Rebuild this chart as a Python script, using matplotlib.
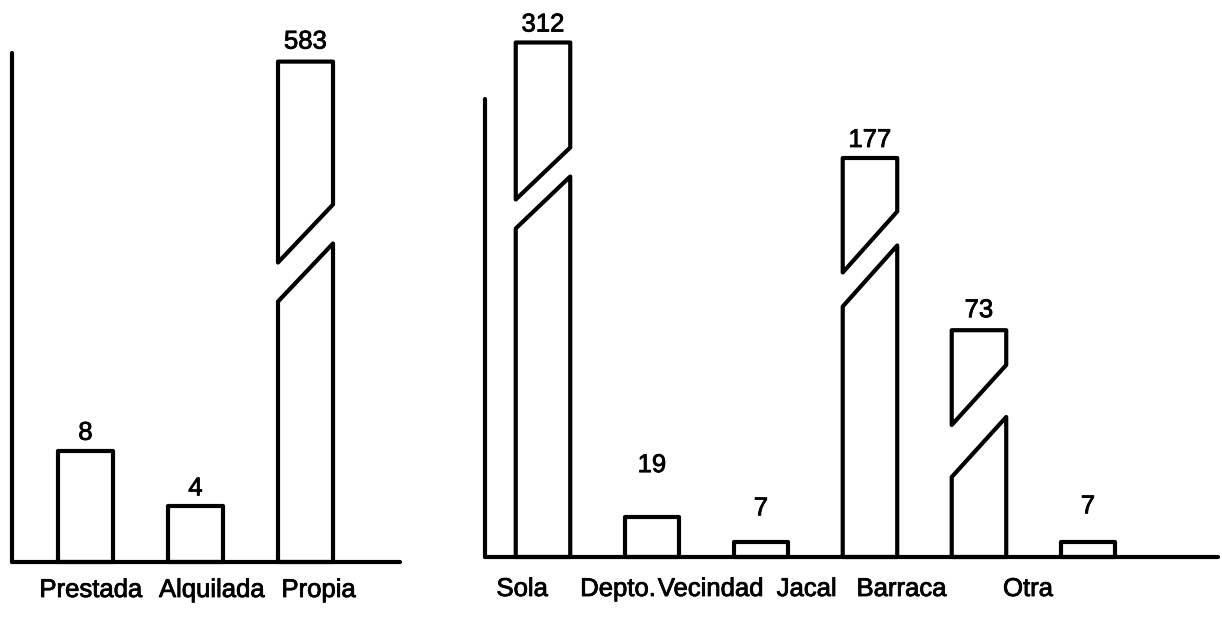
import matplotlib.pyplot as plt
import matplotlib.patheffects as pe
from matplotlib.patches import Polygon, Rectangle

plt.rcParams['font.family'] = ['Liberation Sans', 'DejaVu Sans']

# left chart: tenencia de la vivienda
cats_l = ['Prestada', 'Alquilada', 'Propia']
vals_l = [8, 4, 583]
# right chart: tipo de vivienda
cats_r = ['Sola', 'Depto.', 'Vecindad', 'Jacal', 'Barraca', 'Otra']
vals_r = [312, 19, 7, 177, 73, 7]

# drawn height of the broken (out of scale) bars, in axis units
shown_l = {2: 36.0}
shown_r = {0: 245, 3: 190, 4: 108}
# break geometry in pixels: (centre above base, drop of diagonal, gap)
brk_l = {2: (309, 58, 39)}
brk_r = {0: (369, 52, 29), 3: (298, 61, 34), 4: (136, 60, 52)}
# gap between bar top and value label, pixels
lab_gap_l = [6, 6, 8]
lab_gap_r = [6, 40, 22, 6, 8, 24]
# category label x positions (axis units)
tick_l = [0.05, 1.15, 2.12]
tick_r = [-0.19, 0.69, 1.54, 2.42, 3.29, 4.45]

W, H = 1222, 617
LW = 3.0
FS = 18.5
thick = [pe.withStroke(linewidth=0.6, foreground='black')]

fig = plt.figure(figsize=(W / 100, H / 100), dpi=100)


def make_axes(px0, px1, base, top, xlim, ytop):
    ax = fig.add_axes([px0 / W, (H - base) / H, (px1 - px0) / W, (base - top) / H])
    ax.set_xlim(xlim)
    ax.set_ylim(0, ytop)
    for s in ['top', 'right']:
        ax.spines[s].set_visible(False)
    for s in ['left', 'bottom']:
        ax.spines[s].set_linewidth(LW)
        ax.spines[s].set_capstyle('round')
    ax.set_xticks([])
    ax.set_yticks([])
    ax.patch.set_alpha(0)
    return ax


def draw(ax, vals, shown, brk, gaps, ticks, cats, pxu, w, lab_y):
    for i, v in enumerate(vals):
        x0, x1 = i - w / 2, i + w / 2
        h = shown.get(i, v)
        if i in brk:
            mid, drop, gap = [p / pxu for p in brk[i]]
            low = [(x0, 0), (x1, 0), (x1, mid + drop / 2 - gap / 2),
                   (x0, mid - drop / 2 - gap / 2)]
            up = [(x0, h), (x0, mid - drop / 2 + gap / 2),
                  (x1, mid + drop / 2 + gap / 2), (x1, h)]
            for pts in (low, up):
                ax.add_patch(Polygon(pts, closed=True, fc='white', ec='black',
                                     lw=LW, joinstyle='round', clip_on=False))
        else:
            ax.add_patch(Rectangle((x0, 0), w, h, fc='white', ec='black',
                                   lw=LW, joinstyle='round', clip_on=False))
        ax.annotate(str(v), (i, h), xytext=(0, gaps[i] * 0.72),
                    textcoords='offset points', ha='center', va='bottom',
                    fontsize=FS, annotation_clip=False, path_effects=thick)
    for x, c in zip(ticks, cats):
        ax.text(x, -lab_y / pxu, c, ha='center', va='baseline', fontsize=FS,
                path_effects=thick)


axl = make_axes(12, 400, 562, 53, (-0.668, 2.859), 509 / 13.9)
draw(axl, vals_l, shown_l, brk_l, lab_gap_l, tick_l, cats_l, 13.9, 0.5, 35)

axr = make_axes(485, 1218, 557, 99, (-0.532, 6.193), 458 / 2.1)
draw(axr, vals_r, shown_r, brk_r, lab_gap_r, tick_r, cats_r, 2.1, 0.5, 39)

fig.savefig('out.png', dpi=100, facecolor='white')
